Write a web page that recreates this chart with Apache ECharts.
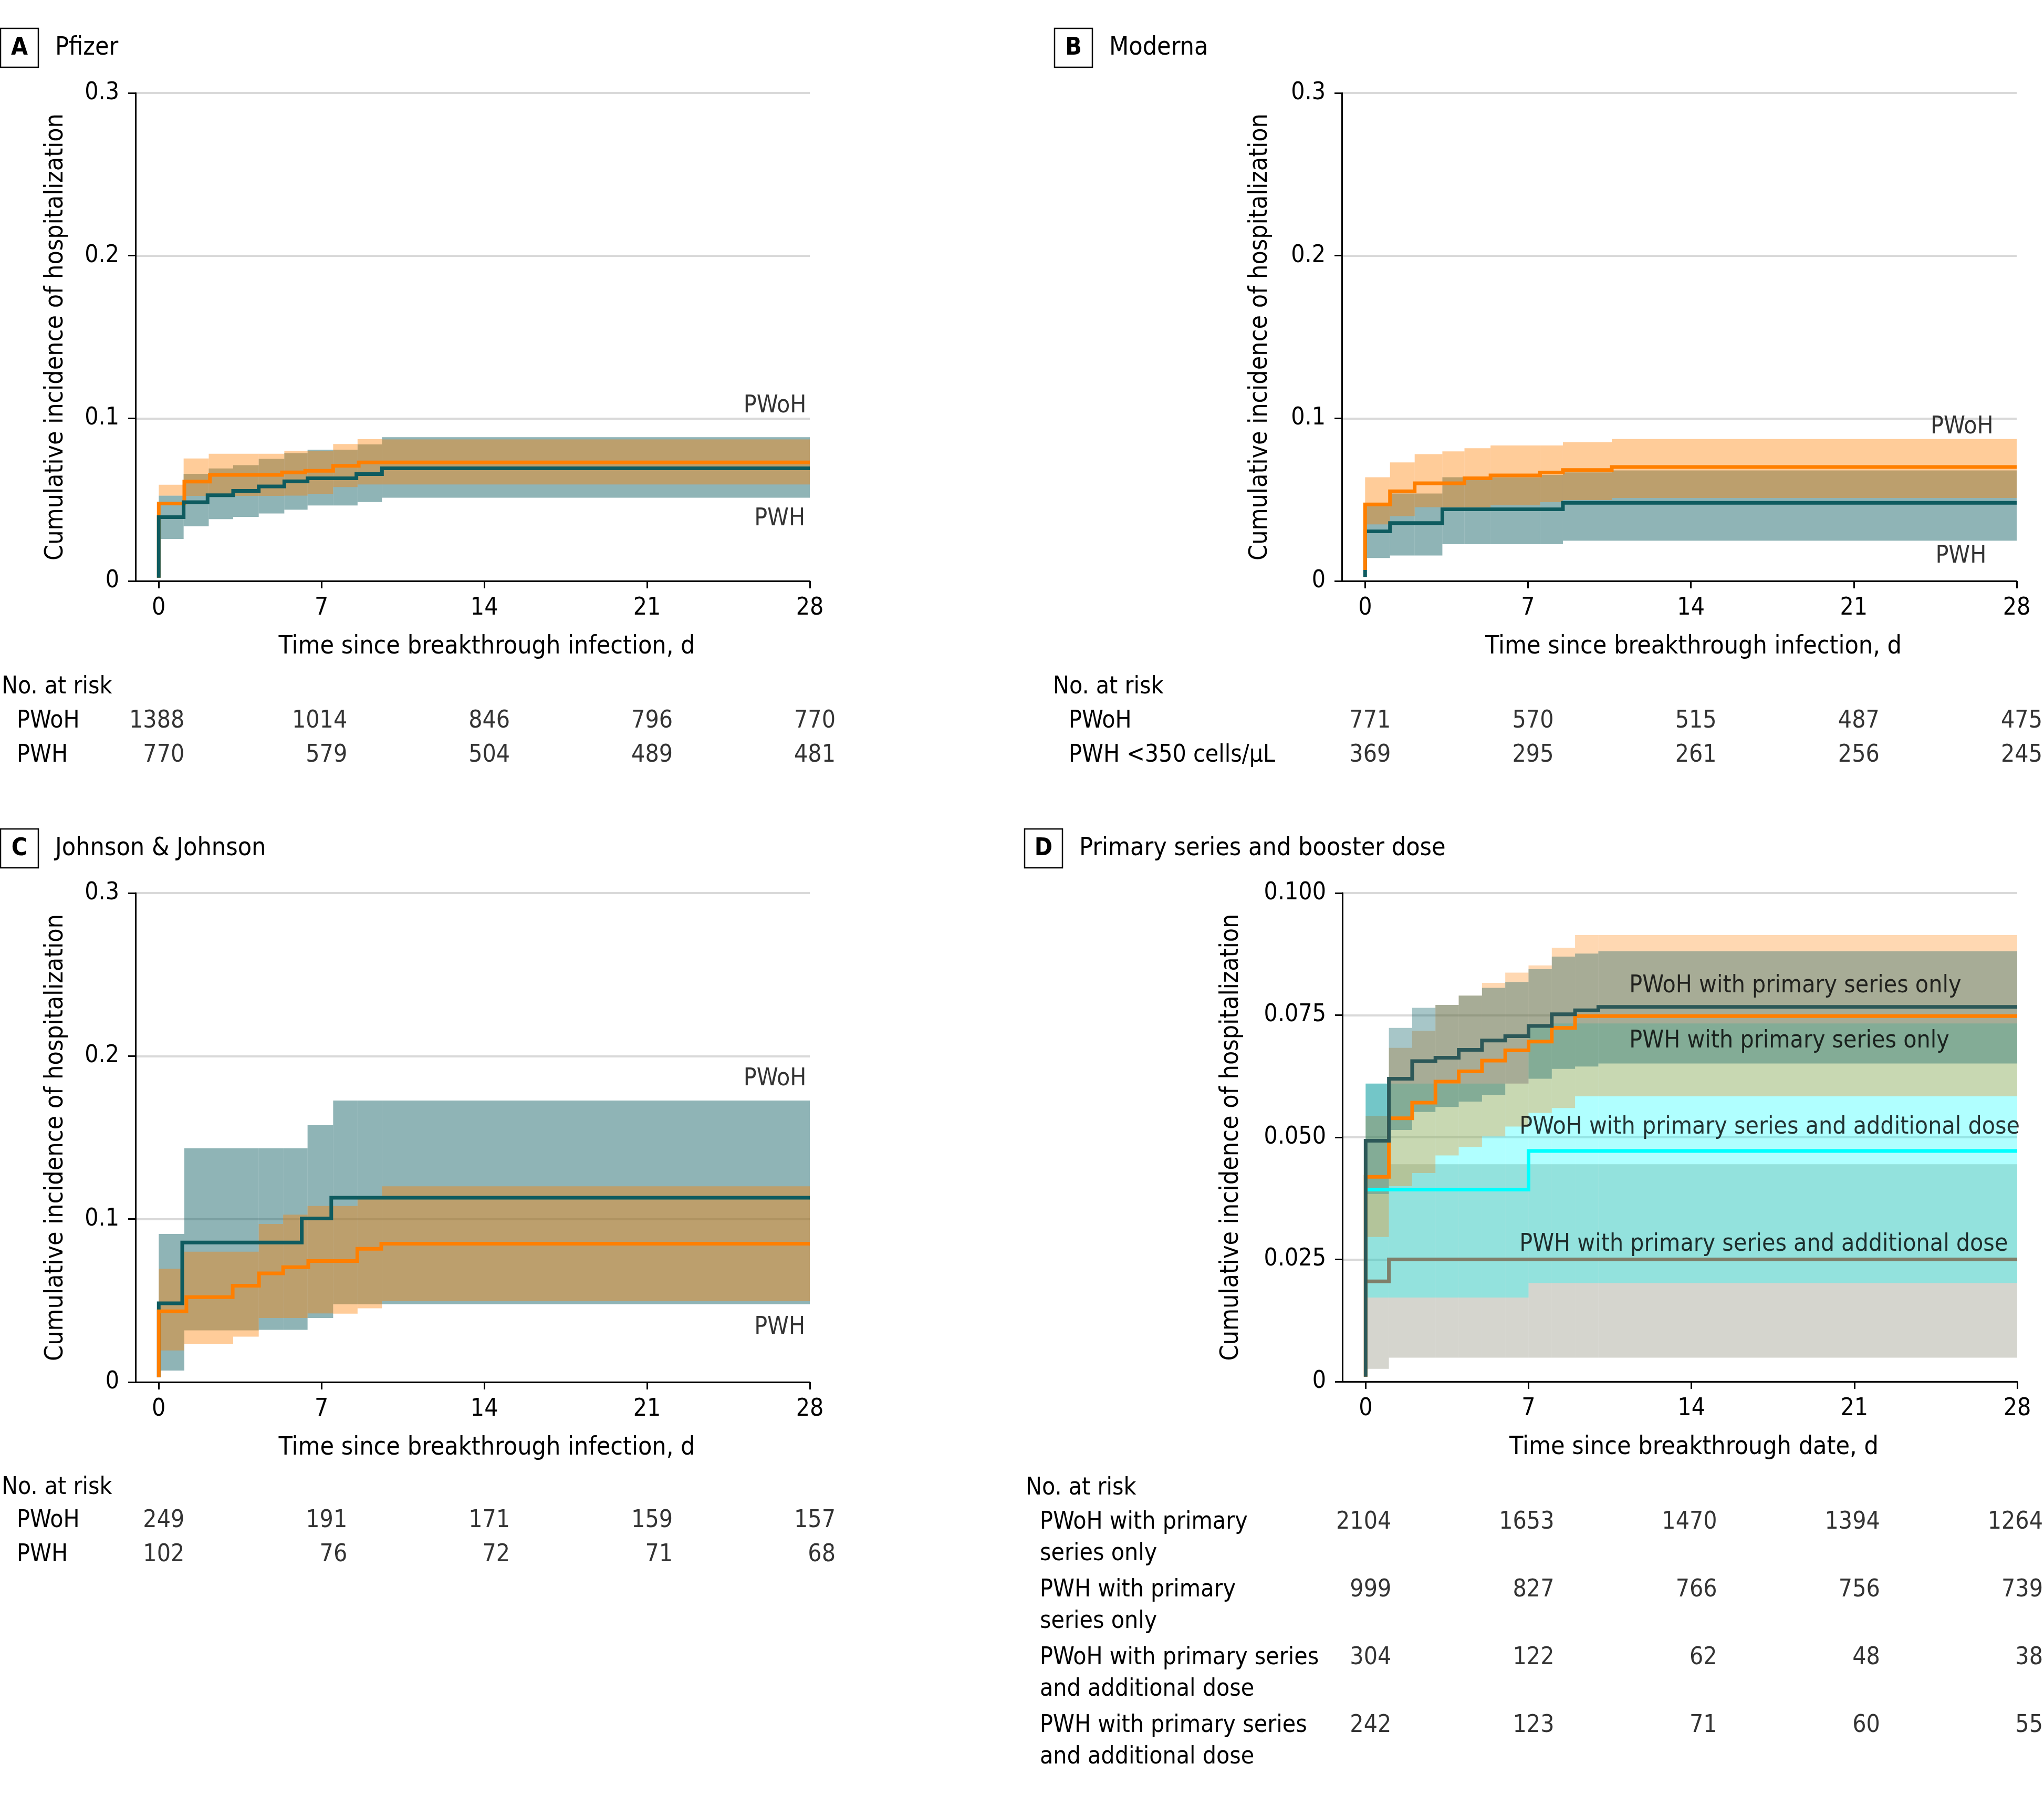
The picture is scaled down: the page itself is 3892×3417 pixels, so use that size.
<!DOCTYPE html>
<html><head><meta charset="utf-8">
<script src="https://cdn.jsdelivr.net/npm/echarts@6/dist/echarts.min.js"></script>
<style>html,body{margin:0;padding:0;background:#fff}#c{width:3892px;height:3417px}</style>
</head><body><div id="c"></div>
<script>
// ---------------- DATA ----------------
const xTicks = [0, 7, 14, 21, 28];

// Panel A – Pfizer
const timeA_PWH = [0, 0, 1.07, 2.1, 3.2, 4.3, 5.4, 6.4, 8.5, 9.6, 28];
const estA_PWH = [0.002, 0.0392, 0.0484, 0.0527, 0.0554, 0.0581, 0.0613, 0.0631, 0.0657, 0.0693, 0.0693];
const timeA_PWoH = [0, 0, 1.1, 2.2, 5.3, 6.3, 7.5, 8.6, 28];
const estA_PWoH = [0.002, 0.0476, 0.0611, 0.0652, 0.0668, 0.0677, 0.0708, 0.0729, 0.0729];
const bandTimeA = [0, 1.07, 2.15, 3.2, 4.3, 5.4, 6.4, 7.5, 8.55, 9.6];
const lowA_PWH = [0.0258, 0.0337, 0.038, 0.0394, 0.0415, 0.0438, 0.0464, 0.0464, 0.0485, 0.0512];
const upA_PWH = [0.0525, 0.0659, 0.0692, 0.0712, 0.0751, 0.0786, 0.0807, 0.0807, 0.084, 0.0884];
const lowA_PWoH = [0.0525, 0.0523, 0.0523, 0.0523, 0.0523, 0.0525, 0.0536, 0.0577, 0.0593, 0.0593];
const upA_PWoH = [0.0592, 0.0753, 0.0782, 0.0782, 0.0782, 0.0800, 0.0800, 0.0842, 0.0872, 0.0870];

// Panel B – Moderna
const timeB_PWH = [0, 0, 1.07, 3.32, 8.5, 28];
const estB_PWH = [0.0025, 0.0305, 0.0356, 0.0441, 0.048, 0.048];
const timeB_PWoH = [0, 0, 1.07, 2.13, 4.27, 5.39, 7.52, 8.5, 10.6, 28];
const estB_PWoH = [0.0068, 0.0471, 0.0551, 0.0601, 0.0631, 0.0649, 0.0667, 0.0682, 0.0701, 0.0701];
const bandTimeB = [0, 1.07, 2.13, 3.32, 4.27, 5.39, 7.52, 8.5, 10.6];
const lowB_PWH = [0.0141, 0.0157, 0.0157, 0.0226, 0.0226, 0.0226, 0.0226, 0.0248, 0.0248];
const upB_PWH = [0.0461, 0.0538, 0.0538, 0.0638, 0.0638, 0.0638, 0.0652, 0.0668, 0.0680];
const lowB_PWoH = [0.0348, 0.0399, 0.0454, 0.0454, 0.0454, 0.0466, 0.0484, 0.0497, 0.0510];
const upB_PWoH = [0.0638, 0.0729, 0.0780, 0.0797, 0.0816, 0.0833, 0.0833, 0.0853, 0.0873];

// Panel C – Johnson & Johnson
const timeC_PWH = [0, 0, 1.01, 6.15, 7.42, 28];
const estC_PWH = [0.003, 0.0483, 0.0856, 0.1004, 0.1131, 0.1131];
const timeC_PWoH = [0, 0, 1.19, 3.18, 4.31, 5.35, 6.43, 8.54, 9.57, 28];
const estC_PWoH = [0.003, 0.0434, 0.0521, 0.0591, 0.0667, 0.0705, 0.0743, 0.0818, 0.0849, 0.0849];
const bandTimeC = [0, 1.1, 3.2, 4.3, 5.35, 6.4, 7.5, 8.55, 9.6];
const upC_PWH = [0.0909, 0.1434, 0.1434, 0.1434, 0.1434, 0.1576, 0.1727, 0.1727, 0.1727];
const lowC_PWH = [0.0071, 0.0317, 0.0317, 0.0321, 0.0321, 0.0393, 0.0478, 0.0478, 0.0478];
const upC_PWoH = [0.0695, 0.0800, 0.0800, 0.0970, 0.1027, 0.1080, 0.1080, 0.1125, 0.1201];
const lowC_PWoH = [0.0194, 0.0235, 0.0279, 0.0393, 0.0393, 0.0421, 0.0420, 0.0453, 0.0497];

// Panel D – Primary series and booster dose
const timeD_PWoHPrim = [0, 0, 1, 2, 3, 4, 5, 6, 7, 8, 9, 10, 28];
const estD_PWoHPrim = [0.001, 0.0493, 0.0620, 0.0656, 0.0663, 0.0679, 0.0698, 0.0707, 0.0728, 0.0752, 0.0760, 0.0767, 0.0767];
const timeD_PWHPrim = [0, 0, 1, 2, 3, 4, 5, 6, 7, 8, 9, 28];
const estD_PWHPrim = [0.001, 0.0419, 0.0539, 0.0571, 0.0614, 0.0635, 0.0657, 0.0678, 0.0696, 0.0724, 0.0748, 0.0748];
const timeD_PWoHAdd = [0, 7, 28];
const estD_PWoHAdd = [0.0393, 0.0472, 0.0472];
const timeD_PWHAdd = [0, 1, 28];
const estD_PWHAdd = [0.0205, 0.0250, 0.0250];
const bandTimeD = [0, 1, 2, 3, 4, 5, 6, 7, 8, 9, 10];
const upD_PWoHPrim = [0.0610, 0.0724, 0.0765, 0.0771, 0.0790, 0.0806, 0.0818, 0.0844, 0.0870, 0.0876, 0.0881];
const lowD_PWoHPrim = [0.0384, 0.0515, 0.0552, 0.0562, 0.0573, 0.0587, 0.0610, 0.0620, 0.0640, 0.0645, 0.0651];
const upD_PWHPrim = [0.0544, 0.0683, 0.0718, 0.0771, 0.0790, 0.0816, 0.0837, 0.0852, 0.0888, 0.0914, 0.0914];
const lowD_PWHPrim = [0.0296, 0.0400, 0.0427, 0.0463, 0.0480, 0.0502, 0.0522, 0.0550, 0.0560, 0.0584, 0.0584];
const upD_PWoHAdd = [0.0610, 0.0610, 0.0610, 0.0610, 0.0610, 0.0610, 0.0610, 0.0727, 0.0733, 0.0733, 0.0733];
const lowD_PWoHAdd = [0.0172, 0.0172, 0.0172, 0.0172, 0.0172, 0.0172, 0.0172, 0.0202, 0.0202, 0.0202, 0.0202];
const upD_PWHAdd = [0.0384, 0.0445, 0.0445, 0.0445, 0.0445, 0.0445, 0.0445, 0.0445, 0.0445, 0.0445, 0.0445];
const lowD_PWHAdd = [0.0026, 0.0049, 0.0049, 0.0049, 0.0049, 0.0049, 0.0049, 0.0049, 0.0049, 0.0049, 0.0049];

// Numbers at risk
const riskTicks = [0, 7, 14, 21, 28];
const rowsA = ['PWoH', 'PWH'];
const riskA_PWoH = [1388, 1014, 846, 796, 770];
const riskA_PWH = [770, 579, 504, 489, 481];
const rowsB = ['PWoH', 'PWH <350 cells/µL'];
const riskB_PWoH = [771, 570, 515, 487, 475];
const riskB_PWH = [369, 295, 261, 256, 245];
const rowsC = ['PWoH', 'PWH'];
const riskC_PWoH = [249, 191, 171, 159, 157];
const riskC_PWH = [102, 76, 72, 71, 68];
const rowsD = ['PWoH with primary\nseries only', 'PWH with primary\nseries only', 'PWoH with primary series\nand additional dose', 'PWH with primary series\nand additional dose'];
const riskD_PWoHPrim = [2104, 1653, 1470, 1394, 1264];
const riskD_PWHPrim = [999, 827, 766, 756, 739];
const riskD_PWoHAdd = [304, 122, 62, 48, 38];
const riskD_PWHAdd = [242, 123, 71, 60, 55];

// Curve labels [x, y, text]
const labelsA = [[27.85, 0.1075, 'PWoH'], [27.8, 0.038, 'PWH']];
const labelsB = [[27.0, 0.0946, 'PWoH'], [26.7, 0.0153, 'PWH']];
const labelsC = [[27.85, 0.186, 'PWoH'], [27.8, 0.0334, 'PWH']];
const labelsD = [[11.33, 0.0810, 'PWoH with primary series only'], [11.33, 0.0697, 'PWH with primary series only'],
                 [6.61, 0.0520, 'PWoH with primary series and additional dose'], [6.61, 0.0281, 'PWH with primary series and additional dose']];

// ---------------- STYLE / LAYOUT ----------------
const FONT = "'DejaVu Sans Condensed', 'Liberation Sans Narrow', sans-serif";
const FS = 46;
const FSN = 48;
const C_TEAL = '#0e5b5f', C_ORANGE = '#ff7f00';
const B_TEAL = 'rgba(16,95,99,0.47)', B_ORANGE = 'rgba(255,127,0,0.40)';
const D_SLATE = '#2c5858', D_CYAN = '#00ffff', D_GRAY = '#7f7f6a';
const DB_SLATE = 'rgba(4,92,98,0.35)', DB_ORANGE = 'rgba(255,127,0,0.30)', DB_CYAN = 'rgba(0,255,255,0.31)', DB_GRAY = 'rgba(127,127,106,0.33)';

const plotGrids = [
  {left: 258, top: 177, width: 1284, height: 929},
  {left: 2555, top: 177, width: 1285, height: 929},
  {left: 258, top: 1700, width: 1284, height: 931},
  {left: 2556, top: 1700, width: 1285, height: 930}
];
const tableGrids = [
  {left: 258, top: 1341, width: 1284, height: 130},
  {left: 2555, top: 1341, width: 1285, height: 130},
  {left: 258, top: 2863, width: 1284, height: 130},
  {left: 2556, top: 2864, width: 1285, height: 516}
];
const txt = {color: '#000', fontFamily: FONT, fontSize: FS};
const txtN = {color: '#000', fontFamily: FONT, fontSize: FSN};

function plotX(gi, name) {
  return {gridIndex: gi, type: 'value', min: -1, max: 28,
    axisLine: {show: true, onZero: false, lineStyle: {color: '#000', width: 3}},
    axisTick: {show: true, customValues: xTicks, length: 14, lineStyle: {color: '#000', width: 3}},
    axisLabel: Object.assign({show: true, customValues: xTicks, margin: 29}, txt),
    splitLine: {show: false},
    name: name, nameLocation: 'middle', nameGap: 102,
    nameTextStyle: Object.assign({padding: [0, 0, 0, 54]}, txtN)};
}
function plotY(gi, max, interval, digits, gap) {
  return {gridIndex: gi, type: 'value', min: 0, max: max, interval: interval,
    axisLine: {show: true, onZero: false, lineStyle: {color: '#000', width: 3}},
    axisTick: {show: true, length: 14, lineStyle: {color: '#000', width: 3}},
    axisLabel: Object.assign({margin: 31, formatter: v => v === 0 ? '0' : v.toFixed(digits)}, txt),
    splitLine: {show: true, lineStyle: {color: '#d9d9d9', width: 4}},
    name: 'Cumulative incidence of hospitalization', nameLocation: 'middle', nameGap: gap,
    nameTextStyle: Object.assign({}, txtN)};
}
function tableX(gi) { return {gridIndex: gi, type: 'value', min: -1, max: 28, show: false}; }
function tableY(gi, rows, margin) {
  return {gridIndex: gi, type: 'category', inverse: true, data: rows,
    axisLine: {show: false}, axisTick: {show: false}, splitLine: {show: false},
    axisLabel: Object.assign({align: 'left', margin: margin, interval: 0, lineHeight: 60}, txt)};
}

function bandSeries(ai, times, low, up, color) {
  const data = times.map((t, i) => [t, i < times.length - 1 ? times[i + 1] : 28, low[i], up[i]]);
  return {type: 'custom', xAxisIndex: ai, yAxisIndex: ai, clip: true, silent: true,
    data: data, encode: {x: [0, 1], y: [2, 3]},
    renderItem: function (params, api) {
      const p0 = api.coord([api.value(0), api.value(3)]);
      const p1 = api.coord([api.value(1), api.value(2)]);
      return {type: 'rect', shape: {x: p0[0], y: p0[1], width: p1[0] - p0[0], height: p1[1] - p0[1]},
              style: {fill: color}};
    }};
}
function lineSeries(ai, times, vals, color, width) {
  return {type: 'line', xAxisIndex: ai, yAxisIndex: ai, step: 'end', symbol: 'none', silent: true,
    data: times.map((t, i) => [t, vals[i]]),
    lineStyle: {color: color, width: width, cap: 'butt', join: 'miter'}, itemStyle: {color: color}};
}
function labelSeries(ai, items, align) {
  return {type: 'scatter', xAxisIndex: ai, yAxisIndex: ai, symbolSize: 0.1, silent: true, clip: false,
    itemStyle: {color: 'rgba(0,0,0,0)'}, data: items, z: 5,
    label: Object.assign({show: true, position: 'inside', align: align, verticalAlign: 'middle',
      formatter: p => p.value[2]}, txt)};
}
function riskSeries(ai, rows, yOff) {
  const data = [];
  rows.forEach((vals, r) => vals.forEach((v, j) => data.push([riskTicks[j], r, v])));
  return {type: 'scatter', xAxisIndex: ai, yAxisIndex: ai, symbolSize: 0.1, silent: true, clip: false,
    itemStyle: {color: 'rgba(0,0,0,0)'}, data: data,
    label: Object.assign({show: true, position: 'inside', align: 'right', verticalAlign: 'middle',
      offset: [49, yOff], formatter: p => String(p.value[2])}, txt)};
}

function panelHeader(bx, by, letter, title) {
  return [
    {type: 'rect', shape: {x: bx, y: by, width: 72, height: 74}, style: {fill: '#fff', stroke: '#000', lineWidth: 2.5}},
    {type: 'text', x: bx + 36, y: by + 38, style: {text: letter, fontSize: 46, fontWeight: 'bold', fontFamily: FONT, fill: '#000', align: 'center', verticalAlign: 'middle'}},
    {type: 'text', x: bx + 104, y: by + 38, style: {text: title, fontSize: FSN, fontFamily: FONT, fill: '#000', align: 'left', verticalAlign: 'middle'}}
  ];
}
function noAtRisk(x, y) {
  return {type: 'text', x: x, y: y, style: {text: 'No. at risk', fontSize: FS, fontFamily: FONT, fill: '#000', align: 'left', verticalAlign: 'middle'}};
}

const option = {
  animation: false,
  backgroundColor: '#fff',
  grid: plotGrids.concat(tableGrids).map(g => Object.assign({containLabel: false, outerBoundsMode: 'none'}, g)),
  xAxis: [
    plotX(0, 'Time since breakthrough infection, d'),
    plotX(1, 'Time since breakthrough infection, d'),
    plotX(2, 'Time since breakthrough infection, d'),
    plotX(3, 'Time since breakthrough date, d'),
    tableX(4), tableX(5), tableX(6), tableX(7)
  ],
  yAxis: [
    plotY(0, 0.3, 0.1, 1, 127),
    plotY(1, 0.3, 0.1, 1, 131),
    plotY(2, 0.3, 0.1, 1, 127),
    plotY(3, 0.1, 0.025, 3, 187),
    tableY(4, rowsA, 226), tableY(5, rowsB, 520), tableY(6, rowsC, 226), tableY(7, rowsD, 576)
  ],
  graphic: [].concat(
    panelHeader(1, 54, 'A', 'Pfizer'),
    panelHeader(2008, 54, 'B', 'Moderna'),
    panelHeader(1, 1578, 'C', 'Johnson & Johnson'),
    panelHeader(1951, 1578, 'D', 'Primary series and booster dose'),
    [noAtRisk(3, 1308), noAtRisk(2005, 1308), noAtRisk(3, 2832), noAtRisk(1953, 2833)]
  ),
  series: [
    // A
    bandSeries(0, bandTimeA, lowA_PWH, upA_PWH, B_TEAL),
    bandSeries(0, bandTimeA, lowA_PWoH, upA_PWoH, B_ORANGE),
    lineSeries(0, timeA_PWoH, estA_PWoH, C_ORANGE, 7),
    lineSeries(0, timeA_PWH, estA_PWH, C_TEAL, 7),
    labelSeries(0, labelsA, 'right'),
    // B
    bandSeries(1, bandTimeB, lowB_PWH, upB_PWH, B_TEAL),
    bandSeries(1, bandTimeB, lowB_PWoH, upB_PWoH, B_ORANGE),
    lineSeries(1, timeB_PWH, estB_PWH, C_TEAL, 7),
    lineSeries(1, timeB_PWoH, estB_PWoH, C_ORANGE, 7),
    labelSeries(1, labelsB, 'right'),
    // C
    bandSeries(2, bandTimeC, lowC_PWH, upC_PWH, B_TEAL),
    bandSeries(2, bandTimeC, lowC_PWoH, upC_PWoH, B_ORANGE),
    lineSeries(2, timeC_PWH, estC_PWH, C_TEAL, 7),
    lineSeries(2, timeC_PWoH, estC_PWoH, C_ORANGE, 7),
    labelSeries(2, labelsC, 'right'),
    // D
    bandSeries(3, bandTimeD, lowD_PWHAdd, upD_PWHAdd, DB_GRAY),
    bandSeries(3, bandTimeD, lowD_PWoHAdd, upD_PWoHAdd, DB_CYAN),
    bandSeries(3, bandTimeD, lowD_PWHPrim, upD_PWHPrim, DB_ORANGE),
    bandSeries(3, bandTimeD, lowD_PWoHPrim, upD_PWoHPrim, DB_SLATE),
    lineSeries(3, timeD_PWHAdd, estD_PWHAdd, D_GRAY, 7),
    lineSeries(3, timeD_PWoHAdd, estD_PWoHAdd, D_CYAN, 7),
    lineSeries(3, timeD_PWHPrim, estD_PWHPrim, C_ORANGE, 7),
    lineSeries(3, timeD_PWoHPrim, estD_PWoHPrim, D_SLATE, 7),
    labelSeries(3, labelsD, 'left'),
    // risk tables
    riskSeries(4, [riskA_PWoH, riskA_PWH], 0),
    riskSeries(5, [riskB_PWoH, riskB_PWH], 0),
    riskSeries(6, [riskC_PWoH, riskC_PWH], 0),
    riskSeries(7, [riskD_PWoHPrim, riskD_PWHPrim, riskD_PWoHAdd, riskD_PWHAdd], -30)
  ]
};
const chart = echarts.init(document.getElementById('c'), null, {renderer: 'canvas'});
chart.setOption(option);
</script>
</body></html>
